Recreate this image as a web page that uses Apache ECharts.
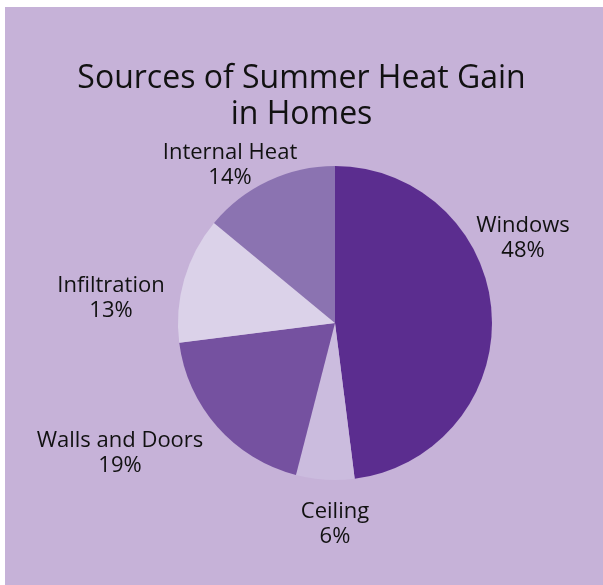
<!DOCTYPE html>
<html>
<head>
<meta charset="utf-8">
<script src="https://cdn.jsdelivr.net/npm/echarts@6/dist/echarts.min.js"></script>
<style>
html,body{margin:0;padding:0;background:#ffffff;}
#chart{width:603px;height:585px;}
</style>
</head>
<body>
<div id="chart"></div>
<script>
const categories = ['Windows', 'Ceiling', 'Walls and Doors', 'Infiltration', 'Internal Heat'];
const values = [48, 6, 19, 13, 14];
const sliceColors = ['#5b2d8f', '#cbbcde', '#7551a0', '#dbd2e9', '#8b73b1'];
const labelAnchors = [[523, 238], [335, 524], [120, 453], [111, 298], [230, 165]];

const chart = echarts.init(document.getElementById('chart'), null, {renderer: 'canvas'});
const fontFam = '"Open Sans", "Noto Sans", sans-serif';
chart.setOption({
  backgroundColor: '#ffffff',
  animation: false,
  graphic: [{
    type: 'rect', left: 5, top: 7, z: -10,
    shape: {width: 598, height: 578},
    style: {fill: '#c6b2d8'}
  }],
  title: {
    text: 'Sources of Summer Heat Gain\nin Homes',
    left: 'center',
    top: 56,
    textStyle: {fontFamily: fontFam, fontSize: 32, fontWeight: 'normal', color: '#111111', lineHeight: 36}
  },
  series: [{
    type: 'pie',
    center: [335, 323],
    radius: [0, 157],
    startAngle: 90,
    clockwise: true,
    data: categories.map((c, i) => ({name: c, value: values[i], itemStyle: {color: sliceColors[i]}})),
    label: {
      show: true,
      position: 'outside',
      alignTo: 'none',
      overflow: 'none',
      formatter: p => p.name + '\n' + p.value + '%',
      fontFamily: fontFam,
      fontSize: 22,
      lineHeight: 25,
      color: '#111111',
      align: 'center'
    },
    labelLine: {show: false},
    labelLayout: function (params) {
      const a = labelAnchors[params.dataIndex];
      return {x: a[0], y: a[1], align: 'center', verticalAlign: 'middle'};
    },
    emphasis: {disabled: true}
  }]
});
</script>
</body>
</html>
